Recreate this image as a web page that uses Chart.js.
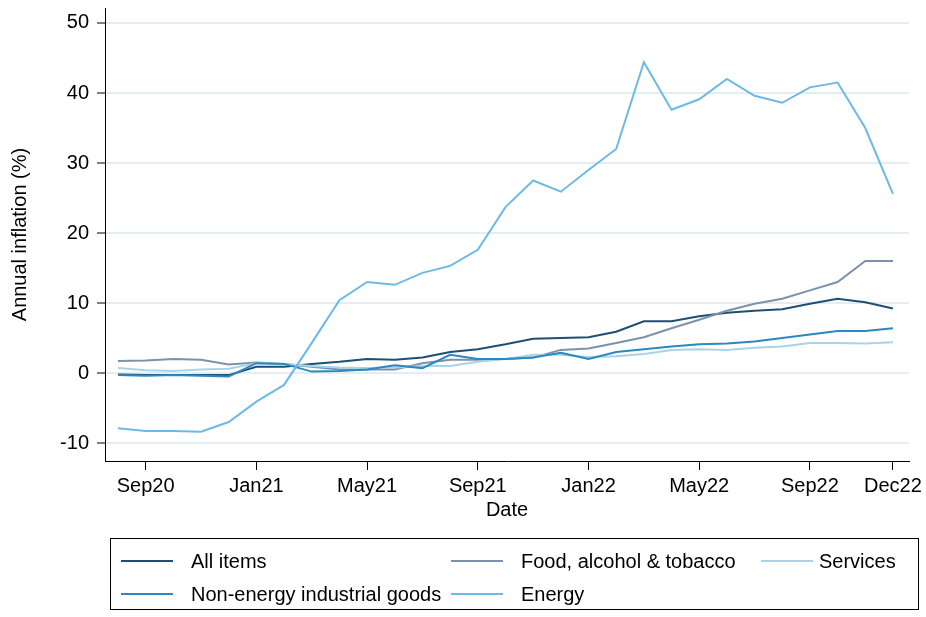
<!DOCTYPE html>
<html>
<head>
<meta charset="utf-8">
<script src="https://cdn.jsdelivr.net/npm/chart.js@4.4.0/dist/chart.umd.min.js"></script>
<style>
  body { margin: 0; background: #fff; }
  #wrap { position: relative; width: 926px; height: 617px; }
  #legend {
    position: absolute; left: 110px; top: 538px; width: 809px; height: 72px;
    border: 1px solid #000; box-sizing: border-box;
    font-family: "Liberation Sans", Arial, sans-serif; font-size: 20px; color: #000;
  }
  .item { position: absolute; height: 24px; line-height: 24px; white-space: nowrap; }
  .item .sw { position: absolute; left: 0; top: 11px; width: 52px; height: 2px; }
  .item span { position: absolute; left: 70px; }
</style>
</head>
<body>
<div id="wrap">
  <canvas id="chart" width="926" height="617"></canvas>
  <div id="legend"></div>
</div>
<script>
// monthly data, Aug 2020 - Dec 2022
const months = ['Aug20','Sep20','Oct20','Nov20','Dec20','Jan21','Feb21','Mar21','Apr21','May21','Jun21','Jul21',
  'Aug21','Sep21','Oct21','Nov21','Dec21','Jan22','Feb22','Mar22','Apr22','May22','Jun22','Jul22',
  'Aug22','Sep22','Oct22','Nov22','Dec22'];

const allItems = [-0.2, -0.3, -0.3, -0.3, -0.3, 0.9, 0.9, 1.3, 1.6, 2.0, 1.9, 2.2,
  3.0, 3.4, 4.1, 4.9, 5.0, 5.1, 5.9, 7.4, 7.4, 8.1, 8.6, 8.9, 9.1, 9.9, 10.6, 10.1, 9.2];
const food = [1.7, 1.8, 2.0, 1.9, 1.2, 1.5, 1.3, 0.9, 0.5, 0.5, 0.5, 1.4,
  1.9, 1.9, 2.0, 2.2, 3.3, 3.5, 4.3, 5.1, 6.4, 7.6, 8.9, 9.9, 10.6, 11.8, 13.0, 16.0, 16.0];
const services = [0.7, 0.4, 0.3, 0.5, 0.6, 1.4, 1.3, 1.0, 0.8, 0.7, 0.8, 1.0,
  1.0, 1.6, 2.0, 2.6, 2.6, 2.3, 2.4, 2.7, 3.3, 3.4, 3.3, 3.6, 3.8, 4.3, 4.3, 4.2, 4.4];
const neig = [-0.3, -0.4, -0.3, -0.4, -0.5, 1.4, 1.3, 0.2, 0.3, 0.5, 1.1, 0.7,
  2.6, 2.0, 2.0, 2.2, 2.9, 2.0, 3.0, 3.4, 3.8, 4.1, 4.2, 4.5, 5.0, 5.5, 6.0, 6.0, 6.4];
const energy = [-7.9, -8.3, -8.3, -8.4, -7.0, -4.1, -1.7, 4.3, 10.4, 13.0, 12.6, 14.3,
  15.3, 17.6, 23.7, 27.5, 25.9, 29.0, 32.0, 44.4, 37.6, 39.1, 42.0, 39.6, 38.6, 40.8, 41.5, 35.0, 25.6];

const xTickLabels = ['Sep20', 'Jan21', 'May21', 'Sep21', 'Jan22', 'May22', 'Sep22', 'Dec22'];
const yTicks = [-10, 0, 10, 20, 30, 40, 50];

const series = [
  { label: 'All items', data: allItems, color: '#1d4f74' },
  { label: 'Food, alcohol & tobacco', data: food, color: '#7b92a8' },
  { label: 'Services', data: services, color: '#a8d4e6' },
  { label: 'Non-energy industrial goods', data: neig, color: '#2b88c0' },
  { label: 'Energy', data: energy, color: '#6db9e6' }
];

const font = { family: '"Liberation Sans", Arial, sans-serif', size: 20 };

const ctx = document.getElementById('chart').getContext('2d');
new Chart(ctx, {
  type: 'line',
  data: {
    datasets: series.map((s, i) => ({
      label: s.label,
      data: s.data.map((v, j) => ({ x: j, y: v })),
      borderColor: s.color,
      backgroundColor: s.color,
      borderWidth: 2,
      pointRadius: 0,
      tension: 0,
      order: series.length - i // later series drawn on top
    }))
  },
  options: {
    responsive: false,
    animation: false,
    layout: { padding: { left: 0, right: 17, top: 8, bottom: 93 } },
    plugins: { legend: { display: false }, tooltip: { enabled: false } },
    scales: {
      x: {
        type: 'linear',
        min: -0.47,
        max: 28.58,
        afterBuildTicks: axis => {
          axis.ticks = xTickLabels.map(l => ({ value: months.indexOf(l) }));
        },
        afterFit: axis => { axis.height = 63; axis.paddingLeft = 0; axis.paddingRight = 0; },
        ticks: {
          color: '#000', font: font, padding: 4, maxRotation: 0, autoSkip: false,
          callback: v => months[v]
        },
        grid: { drawOnChartArea: false, tickColor: '#000', tickLength: 9, tickWidth: 1 },
        border: { color: '#000', width: 1 },
        title: { display: true, text: 'Date', color: '#000', font: font, padding: { top: 0, bottom: 2 } }
      },
      y: {
        min: -12.57,
        max: 52.14,
        afterBuildTicks: axis => {
          axis.ticks = yTicks.map(v => ({ value: v }));
        },
        afterFit: axis => { axis.width = 105; axis.paddingTop = 0; axis.paddingBottom = 0; },
        ticks: { color: '#000', font: font, padding: 8 },
        grid: { color: '#e4eef1', lineWidth: 2, tickColor: '#000', tickLength: 8, tickWidth: 1 },
        border: { color: '#000', width: 1 },
        title: { display: true, text: 'Annual inflation (%)', color: '#000', font: font, padding: { top: 8, bottom: 0 } }
      }
    }
  }
});

// legend laid out in three columns like the original
const legend = document.getElementById('legend');
const cols = [10, 340, 650];
series.forEach((s, i) => {
  const div = document.createElement('div');
  div.className = 'item';
  div.style.left = cols[i % 3] + 'px';
  div.style.top = (i < 3 ? 10 : 43) + 'px';
  div.innerHTML = '<div class="sw" style="background:' + s.color + '"></div><span></span>';
  div.querySelector('span').textContent = s.label;
  if (i === 2) div.querySelector('span').style.left = '58px';
  legend.appendChild(div);
});
</script>
</body>
</html>
